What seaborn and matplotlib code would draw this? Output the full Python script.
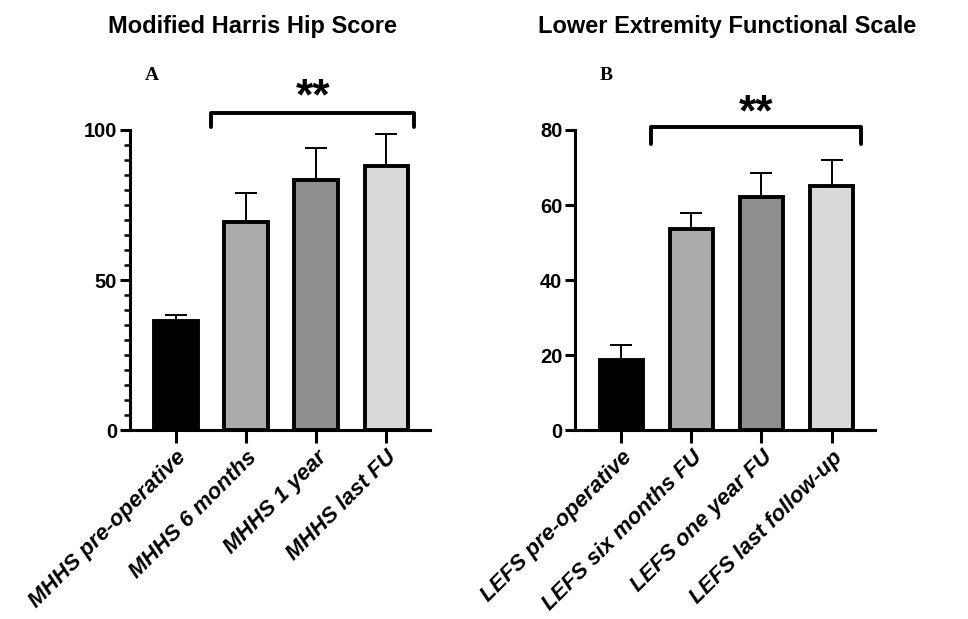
import numpy as np
import pandas as pd
import seaborn as sns
import matplotlib.pyplot as plt
from matplotlib.ticker import MultipleLocator

# Panel A - Modified Harris Hip Score
mhhs_labels = ["MHHS pre-operative", "MHHS 6 months", "MHHS 1 year", "MHHS last FU"]
mhhs_mean = [36.5, 69.5, 83.5, 88.0]
mhhs_err = [2.0, 9.5, 10.5, 10.5]

# Panel B - Lower Extremity Functional Scale
lefs_labels = ["LEFS pre-operative", "LEFS six months FU", "LEFS one year FU", "LEFS last follow-up"]
lefs_mean = [18.8, 53.5, 62.2, 65.1]
lefs_err = [3.9, 4.4, 6.3, 6.8]

bar_colors = ["#000000", "#ababab", "#8e8e8e", "#d9d9d9"]

sns.set_style("ticks", {"axes.edgecolor": "black", "xtick.color": "black",
                        "ytick.color": "black", "text.color": "black",
                        "axes.labelcolor": "black"})
plt.rcParams['font.family'] = ['Liberation Sans', 'DejaVu Sans']

fig = plt.figure(figsize=(9.68, 6.19), dpi=100)
axA = fig.add_axes([0.134, 0.305, 0.310, 0.485])
axB = fig.add_axes([0.594, 0.305, 0.310, 0.485])


def draw_panel(ax, labels, means, errs, ymax, major, minor, bracket, star_y):
    df = pd.DataFrame({"group": labels, "value": means})
    sns.barplot(data=df, x="group", y="value", hue="group", palette=bar_colors,
                legend=False, width=0.62, edgecolor="black", linewidth=2.8,
                saturation=1, ax=ax, zorder=3)
    ax.errorbar(np.arange(len(labels)), means, yerr=[np.zeros(len(errs)), errs],
                fmt="none", ecolor="black", elinewidth=1.4, capsize=8,
                capthick=1.4, zorder=2)
    ax.set_ylim(0, ymax)
    ax.set_xlim(-0.66, 3.62)
    ax.yaxis.set_major_locator(MultipleLocator(major))
    if minor:
        ax.yaxis.set_minor_locator(MultipleLocator(minor))
    ax.set_xlabel("")
    ax.set_ylabel("")
    sns.despine(ax=ax)
    for s in ["left", "bottom"]:
        ax.spines[s].set_linewidth(2.2)
    ax.tick_params(axis="y", which="major", width=2.2, length=7, labelsize=14.5, pad=2,
                   colors="black")
    ax.tick_params(axis="y", which="minor", width=1.8, length=4, colors="black")
    ax.tick_params(axis="x", width=2.2, length=9, labelsize=16, pad=3, colors="black")
    for t in ax.get_yticklabels():
        t.set_fontweight("bold")
    ax.set_xticks(range(len(labels)))
    ax.set_xticklabels(labels, rotation=45, ha="right", rotation_mode="anchor",
                       fontstyle="italic", fontweight="bold")

    # significance bracket
    x0, x1, ylow, yhigh = bracket
    ax.plot([x0, x0, x1, x1], [ylow, yhigh, yhigh, ylow], color="black",
            lw=2.8, clip_on=False, solid_capstyle="round")
    ax.text((x0 + x1) / 2, star_y, "**", ha="center", va="baseline",
            fontsize=32, fontweight="bold", clip_on=False, color="black")
    return ax


draw_panel(axA, mhhs_labels, mhhs_mean, mhhs_err, 100, 50, 5,
           (0.5, 3.4, 101, 105.7), 107.0)
draw_panel(axB, lefs_labels, lefs_mean, lefs_err, 80, 20, None,
           (0.43, 3.42, 76.2, 80.7), 81.3)

fig.text(252 / 968, 1 - 27 / 619, "Modified Harris Hip Score", ha="center", va="center",
         fontsize=17, fontweight="bold", color="black")
fig.text(727 / 968, 1 - 27 / 619, "Lower Extremity Functional Scale", ha="center",
         va="center", fontsize=17, fontweight="bold", color="black")
fig.text(152 / 968, 1 - 76 / 619, "A", ha="center", va="center", fontsize=14,
         fontweight="bold", family="Liberation Serif", color="black")
fig.text(606 / 968, 1 - 76 / 619, "B", ha="center", va="center", fontsize=14,
         fontweight="bold", family="Liberation Serif", color="black")

fig.savefig("out.png", dpi=100)
